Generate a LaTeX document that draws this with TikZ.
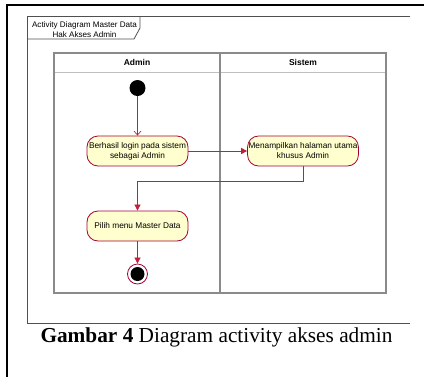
\documentclass[tikz,border=0pt]{standalone}
\usepackage{fontspec}
\setmainfont{Liberation Serif}
\newfontfamily\arialfont{Liberation Sans}
\usetikzlibrary{arrows.meta}
\definecolor{umlred}{HTML}{A80036}
\definecolor{flowred}{HTML}{C0203A}
\definecolor{umlyellow}{HTML}{FEFECE}
\definecolor{lanegray}{HTML}{8A8A8A}
\definecolor{framegray}{HTML}{505050}
\begin{document}
\begin{tikzpicture}[x=1pt,y=-1pt,
  act/.style={draw=umlred, fill=umlyellow, rounded corners=11pt, minimum width=101pt,
    minimum height=30pt, align=center, inner sep=1pt, line width=0.8pt,
    font=\arialfont\fontsize{8.3}{10}\selectfont},
  flow/.style={draw=flowred, line width=0.7pt, -{Triangle[length=6pt,width=6pt]}},
  startflow/.style={draw=flowred, line width=0.7pt, -{Straight Barb[length=4pt,width=7pt]}},
  lane/.style={draw=lanegray, line width=1.2pt},
  lbl/.style={font=\arialfont\fontsize{8}{10}\selectfont, align=center, inner sep=0pt},
]
\useasboundingbox (0,0) rectangle (424,376);
\clip (0,0) rectangle (424,376);
\fill[white] (0,0) rectangle (424,376);
% outer frame
\draw[line width=2pt] (7,380) -- (7,5) -- (430,5);
% diagram frame
\draw[framegray, line width=1pt] (410,16) -- (27,16) -- (27,323) -- (410,323);
\draw[framegray, line width=0.8pt] (27,39) -- (134,39) -- (140,28) -- (140,16);
\node[lbl, font=\arialfont\fontsize{8.1}{10}\selectfont] (title) at (84.5,30) {Activity Diagram Master Data\\Hak Akses Admin};
% swimlanes
\draw[lightgray, line width=1pt] (54,72) -- (386,72);
\draw[lane] (54,53) rectangle (386,293);
\draw[lane] (220,53) -- (220,293);
\node[lbl, font=\arialfont\bfseries\fontsize{8.5}{10}\selectfont] (h1) at (137,62) {Admin};
\node[lbl, font=\arialfont\bfseries\fontsize{8.5}{10}\selectfont] (h2) at (303,62) {Sistem};
% nodes
\node[circle, fill=black, minimum size=16pt, inner sep=0pt] (s) at (137.5,88) {};
\node[act] (a1) at (137.5,151) {Berhasil login pada sistem\\sebagai Admin};
\node[act, minimum width=110pt] (a2) at (303,151) {Menampilkan halaman utama\\khusus Admin};
\node[act] (a3) at (137.5,226) {Pilih menu Master Data};
\node[circle, draw=umlred, fill=white, line width=0.8pt, minimum size=20pt, inner sep=0pt] (e) at (137.5,274) {};
\node[circle, fill=black, minimum size=14pt, inner sep=0pt] (ei) at (e) {};
\coordinate (bend) at (137.5,181);
% flows
\draw[startflow] (s) -- (a1);
\draw[flow] (a1) -- (a2);
\draw[draw=flowred, line width=0.7pt] (a2.south) |- (bend);
\draw[flow] (bend) -- (a3);
\draw[flow] (a3) -- (e);
% caption
\node[inner sep=0pt, font=\fontsize{21.3}{25}\selectfont] (cap) at (216.5,337) {\textbf{Gambar 4} Diagram activity akses admin};
\end{tikzpicture}
\end{document}
